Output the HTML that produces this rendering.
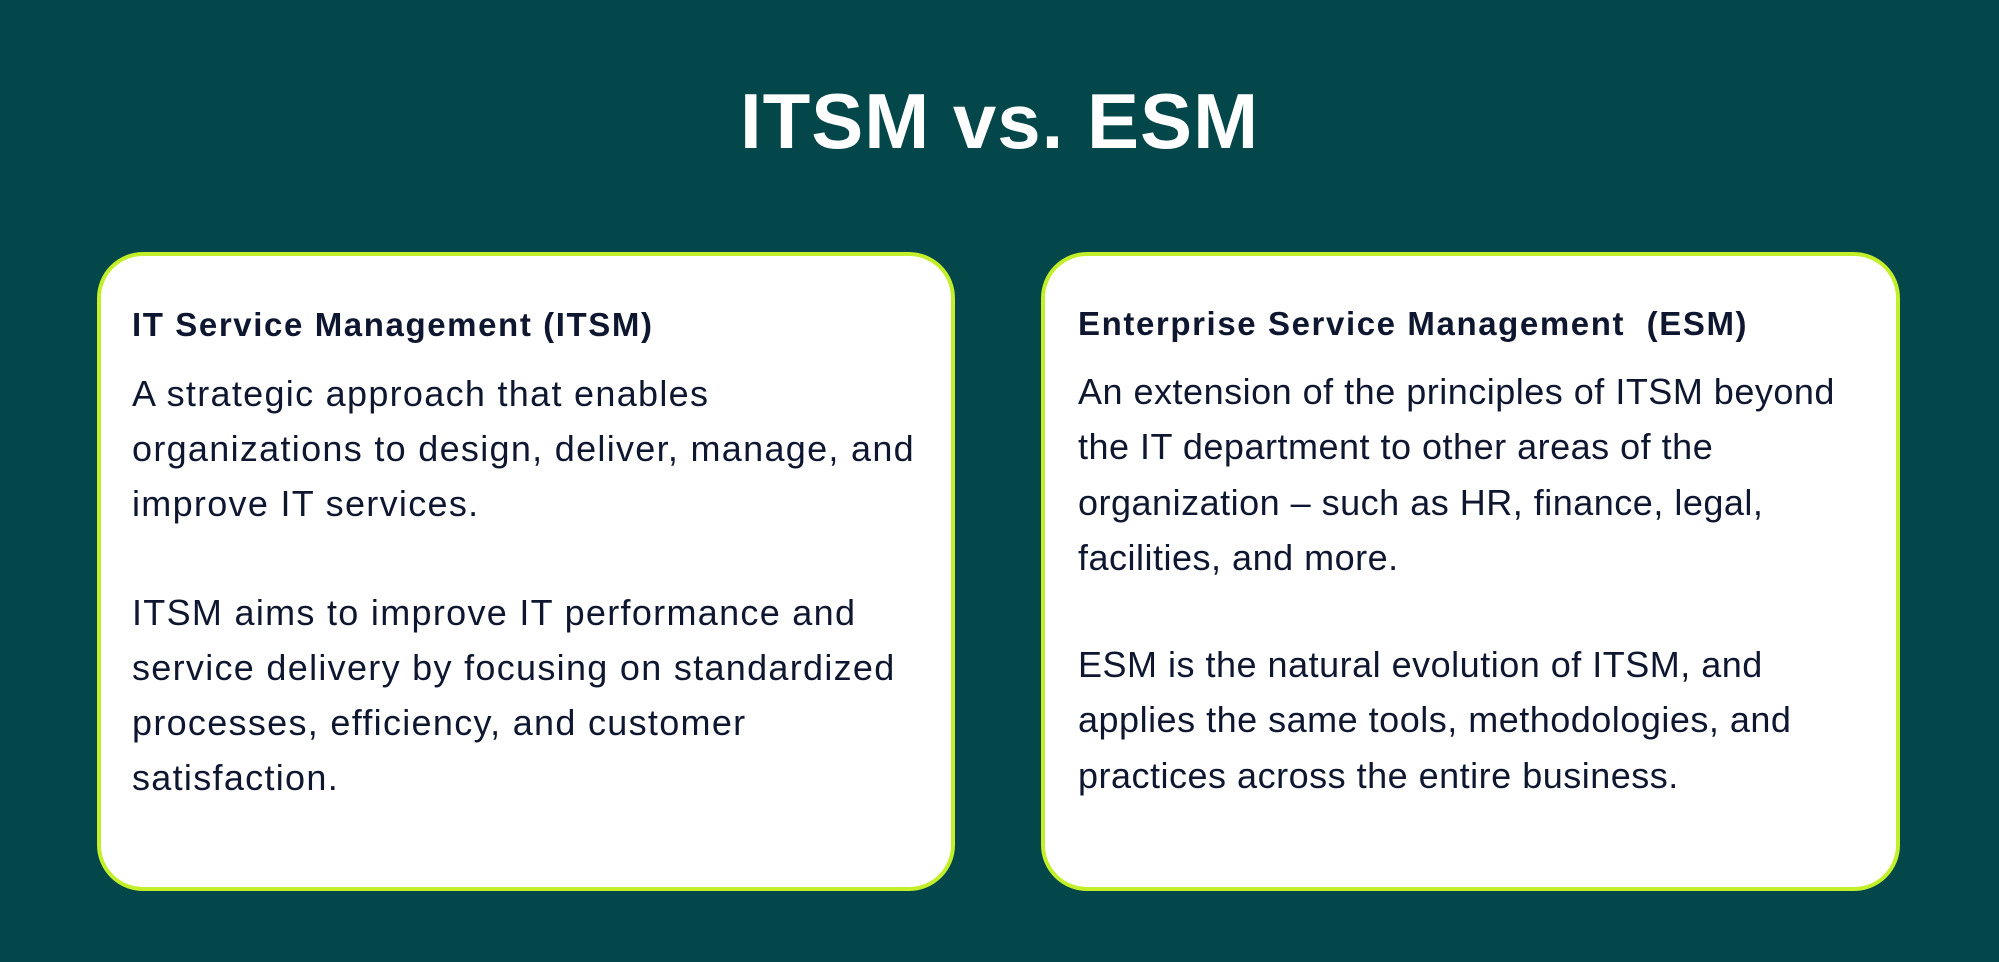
<!DOCTYPE html>
<html><head><meta charset="utf-8"><style>
html,body{margin:0;padding:0;}
body{width:1999px;height:962px;background:#03474a;position:relative;overflow:hidden;font-family:"Liberation Sans",sans-serif;}
.t{position:absolute;white-space:nowrap;line-height:1;color:#0f1730;}
.card{position:absolute;background:#fff;border:4px solid #c3ef2a;border-radius:46px;box-sizing:border-box;}
.h{font-weight:bold;font-size:33px;letter-spacing:1.6px;}
.b{font-size:36px;letter-spacing:1.3px;}
.r{letter-spacing:0.5px;}
</style></head><body>
<div class="t" style="left:0;width:1999px;text-align:center;top:82px;font-size:78px;font-weight:bold;color:#fff;letter-spacing:1px;">ITSM vs. ESM</div>
<div class="card" style="left:97px;top:252px;width:858px;height:639px;"></div>
<div class="card" style="left:1041px;top:252px;width:859px;height:639px;"></div>

<div class="t h" style="left:132px;top:308px;">IT Service Management (ITSM)</div>
<div class="t b" style="left:132px;top:376px;">A strategic approach that enables</div>
<div class="t b" style="left:132px;top:431px;">organizations to design, deliver, manage, and</div>
<div class="t b" style="left:132px;top:486px;">improve IT services.</div>
<div class="t b" style="left:132px;top:595px;">ITSM aims to improve IT performance and</div>
<div class="t b" style="left:132px;top:650px;">service delivery by focusing on standardized</div>
<div class="t b" style="left:132px;top:705px;">processes, efficiency, and customer</div>
<div class="t b" style="left:132px;top:760px;">satisfaction.</div>

<div class="t h" style="left:1078px;top:307px;">Enterprise Service Management&nbsp; (ESM)</div>
<div class="t b r" style="left:1078px;top:374px;">An extension of the principles of ITSM beyond</div>
<div class="t b r" style="left:1078px;top:429px;">the IT department to other areas of the</div>
<div class="t b r" style="left:1078px;top:485px;">organization – such as HR, finance, legal,</div>
<div class="t b r" style="left:1078px;top:540px;">facilities, and more.</div>
<div class="t b r" style="left:1078px;top:647px;">ESM is the natural evolution of ITSM, and</div>
<div class="t b r" style="left:1078px;top:702px;">applies the same tools, methodologies, and</div>
<div class="t b r" style="left:1078px;top:758px;">practices across the entire business.</div>
</body></html>
